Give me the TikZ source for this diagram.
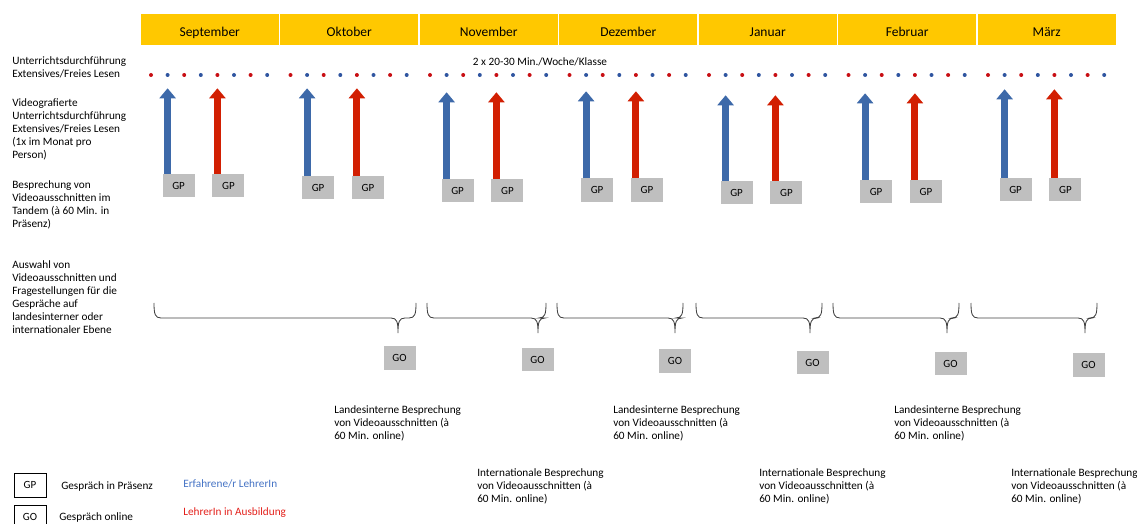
\documentclass[tikz,border=0pt]{standalone}
\usepackage{fontspec}
\setmainfont{Carlito}
\usetikzlibrary{arrows.meta}

\definecolor{cgelb}{HTML}{FFC800}
\definecolor{cblau}{HTML}{3D69A9}
\definecolor{crot}{HTML}{D21F02}
\definecolor{cpunktblau}{HTML}{2F55A0}
\definecolor{cpunktrot}{HTML}{C80F14}
\definecolor{cgrau}{HTML}{BFBFBF}
\definecolor{cklammer}{HTML}{404040}
\definecolor{ctextblau}{HTML}{4472C4}
\definecolor{ctextrot}{HTML}{E3201B}

% brace below a span: left end, tip, right end
\newcommand{\zeitklammer}[3]{%
  \draw[klammerlinie] (#1,303) .. controls (#1,314) and (#1+1,318) .. (#1+7,318)
    -- (#2-7,318) .. controls (#2-1,318) and (#2,322) .. (#2,333)
    .. controls (#2,322) and (#2+1,318) .. (#2+7,318)
    -- (#3-7,318) .. controls (#3-1,318) and (#3,314) .. (#3,303);}

\begin{document}
\begin{tikzpicture}[x=0.025cm,y=-0.025cm,
  monatbox/.style={fill=cgelb,minimum width=3.44cm,minimum height=0.78cm,
    inner sep=0pt,text height=12pt,text depth=2pt,
    font=\fontsize{9.6}{11}\selectfont},
  punkt/.style={circle,inner sep=0pt,minimum size=0.1cm},
  gp/.style={fill=cgrau,minimum width=0.8cm,minimum height=0.58cm,
    inner sep=0pt,font=\fontsize{7.8}{8}\selectfont},
  pfeil/.style={line width=0.175cm,-{Triangle[width=0.4cm,length=0.25cm]}},
  lbl/.style={align=left,anchor=north west,inner sep=0pt,
    font=\fontsize{8}{9.3}\selectfont},
  klammerlinie/.style={draw=cklammer,line width=0.6pt}]

  \useasboundingbox (0,0) rectangle (1137,524);

  % months, lessons, videos
  \foreach \m/\name/\kurz/\gy in {0/September/0.275/185.5, 1/Oktober/0.275/187.5,
      2/November/0.375/190.5, 3/Dezember/0.35/190, 4/Januar/0.45/192.5,
      5/Februar/0.4/191.5, 6/März/0.3/189.5}{
    \node[monatbox] (m\m) at (209.75+139.5*\m,29.5) {\name};
    \foreach \k in {0,2,4,6}
      \node[punkt,fill=cpunktrot] (d\m\k) at (151+139.5*\m+16.6*\k,75) {};
    \foreach \k in {1,3,5,7}
      \node[punkt,fill=cpunktblau] (d\m\k) at (151+139.5*\m+16.6*\k,75) {};
    \node[gp] (gpb\m) at (178.6+139.5*\m,\gy) {GP};
    \node[gp] (gpr\m) at (228.4+139.5*\m,\gy) {GP};
    \draw[pfeil,cblau,shorten >=\kurz cm] (gpb\m.north -| d\m1) -- (d\m1);
    \draw[pfeil,crot,shorten >=\kurz cm] (gpr\m.north -| d\m4) -- (d\m4);
  }

  \node[lbl,anchor=center] (wk) at (540,62) {2 x 20-30 Min./Woche/Klasse};

  \node[lbl] (ud) at (12,56.5) {Unterrichtsdurchführung\\Extensives/Freies Lesen};
  \node[lbl] (vu) at (12,98.5) {Videografierte\\Unterrichtsdurchführung\\Extensives/Freies Lesen\\(1x im Monat pro\\Person)};
  \node[lbl] (bv) at (12,180.5) {Besprechung von\\Videoausschnitten im\\Tandem (à 60 Min. in\\Präsenz)};
  \node[lbl] (aw) at (12,260.5) {Auswahl von\\Videoausschnitten und\\Fragestellungen für die\\Gespräche auf\\landesinterner oder\\internationaler Ebene};

  % online talks
  \foreach \l/\t/\r in {154/398/416, 427/538/546, 557/675/683,
      696/810/822, 833/947/959, 971/1085/1097}
    \zeitklammer{\l}{\t}{\r};
  \foreach \i/\x/\y in {1/399.5/358, 2/537.5/359.5, 3/675/361,
      4/812.5/362.5, 5/950.5/363.5, 6/1088.5/365}
    \node[gp] (go\i) at (\x,\y) {GO};

  \foreach \i/\x in {1/334, 2/613, 3/894}
    \node[lbl] (li\i) at (\x,405.5) {Landesinterne Besprechung\\von Videoausschnitten (à\\60 Min. online)};
  \foreach \i/\x in {1/477, 2/759, 3/1011}
    \node[lbl] (ib\i) at (\x,468.5) {Internationale Besprechung\\von Videoausschnitten (à\\60 Min. online)};

  % legend
  \node[gp,fill=none,draw=black,line width=0.6pt,minimum height=0.6cm] (lgp) at (30,485) {GP};
  \node[gp,fill=none,draw=black,line width=0.6pt,minimum height=0.6cm] (lgo) at (30,517) {GO};
  \node[lbl,anchor=west] (tgp) at (61,486) {Gespräch in Präsenz};
  \node[lbl,anchor=west] (tgo) at (59,517) {Gespräch online};
  \node[lbl,anchor=west,text=ctextblau] (ter) at (183,484) {Erfahrene/r LehrerIn};
  \node[lbl,anchor=west,text=ctextrot] (tau) at (183,513) {LehrerIn in Ausbildung};
\end{tikzpicture}
\end{document}
